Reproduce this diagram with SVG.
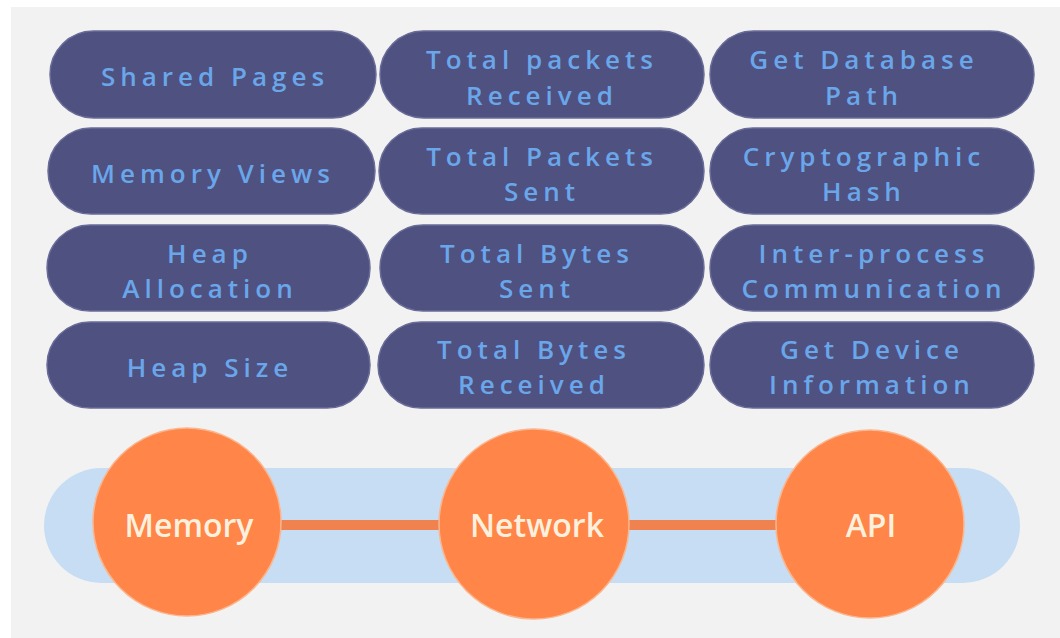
<svg xmlns="http://www.w3.org/2000/svg" width="1060" height="638" viewBox="0 0 1060 638">
  <style>
    .pill { fill: #4f5181; stroke: #6a6c98; stroke-width: 1.5; }
    .pill-text { font-family: "Open Sans", "DejaVu Sans", sans-serif; font-weight: 600; font-size: 26px; letter-spacing: 5px; fill: #6aa6ea; text-anchor: middle; }
    .hub { fill: #ff8548; stroke: #f9b68f; stroke-width: 1.5; }
    .hub-text { font-family: "Open Sans", "DejaVu Sans", sans-serif; font-weight: 600; font-size: 32px; fill: #fdf1de; text-anchor: middle; }
    .link { stroke: #f0824f; stroke-width: 10; }
  </style>

  <!-- page -->
  <rect x="0" y="0" width="1060" height="638" fill="#ffffff"/>
  <rect x="11" y="7" width="1049" height="631" fill="#f2f2f2"/>

  <!-- Memory column -->
  <g id="shared-pages">
    <rect class="pill" x="50" y="31" width="326" height="87" rx="43.5"/>
    <text class="pill-text" x="215" y="86">Shared Pages</text>
  </g>
  <g id="memory-views">
    <rect class="pill" x="48" y="128" width="327" height="86" rx="43"/>
    <text class="pill-text" x="213" y="183">Memory Views</text>
  </g>
  <g id="heap-allocation">
    <rect class="pill" x="47" y="225" width="323" height="86" rx="43"/>
    <text class="pill-text" x="210" y="263">Heap</text>
    <text class="pill-text" x="210" y="298">Allocation</text>
  </g>
  <g id="heap-size">
    <rect class="pill" x="47" y="322" width="323" height="86" rx="43"/>
    <text class="pill-text" x="210" y="377">Heap Size</text>
  </g>

  <!-- Network column -->
  <g id="total-packets-received">
    <rect class="pill" x="380" y="31" width="324" height="87" rx="43.5"/>
    <text class="pill-text" x="542" y="69">Total packets</text>
    <text class="pill-text" x="542" y="105">Received</text>
  </g>
  <g id="total-packets-sent">
    <rect class="pill" x="379" y="128" width="325" height="86" rx="43"/>
    <text class="pill-text" x="542" y="166">Total Packets</text>
    <text class="pill-text" x="542" y="201">Sent</text>
  </g>
  <g id="total-bytes-sent">
    <rect class="pill" x="380" y="225" width="324" height="86" rx="43"/>
    <text class="pill-text" x="537" y="263">Total Bytes</text>
    <text class="pill-text" x="537" y="298">Sent</text>
  </g>
  <g id="total-bytes-received">
    <rect class="pill" x="378" y="322" width="326" height="86" rx="43"/>
    <text class="pill-text" x="534" y="359">Total Bytes</text>
    <text class="pill-text" x="534" y="394">Received</text>
  </g>

  <!-- API column -->
  <g id="get-database-path">
    <rect class="pill" x="710" y="31" width="324" height="87" rx="43.5"/>
    <text class="pill-text" x="864" y="69">Get Database</text>
    <text class="pill-text" x="864" y="105">Path</text>
  </g>
  <g id="cryptographic-hash">
    <rect class="pill" x="710" y="128" width="324" height="86" rx="43"/>
    <text class="pill-text" x="864" y="166">Cryptographic</text>
    <text class="pill-text" x="864" y="201">Hash</text>
  </g>
  <g id="inter-process-communication">
    <rect class="pill" x="710" y="225" width="324" height="86" rx="43"/>
    <text class="pill-text" x="874" y="263">Inter-process</text>
    <text class="pill-text" x="874" y="298">Communication</text>
  </g>
  <g id="get-device-information">
    <rect class="pill" x="710" y="322" width="324" height="86" rx="43"/>
    <text class="pill-text" x="872" y="359">Get Device</text>
    <text class="pill-text" x="872" y="394">Information</text>
  </g>

  <!-- category band -->
  <rect x="44" y="468" width="976" height="115" rx="57.5" fill="#c6ddf4"/>

  <g id="connectors">
    <line class="link" x1="275" y1="525" x2="445" y2="525"/>
    <line class="link" x1="625" y1="525" x2="785" y2="525"/>
  </g>

  <g id="memory">
    <circle class="hub" cx="187" cy="522" r="94"/>
    <text class="hub-text" x="189" y="537">Memory</text>
  </g>
  <g id="network">
    <circle class="hub" cx="534" cy="524" r="95"/>
    <text class="hub-text" x="537" y="537">Network</text>
  </g>
  <g id="api">
    <circle class="hub" cx="870" cy="524" r="94"/>
    <text class="hub-text" x="871" y="537">API</text>
  </g>
</svg>
